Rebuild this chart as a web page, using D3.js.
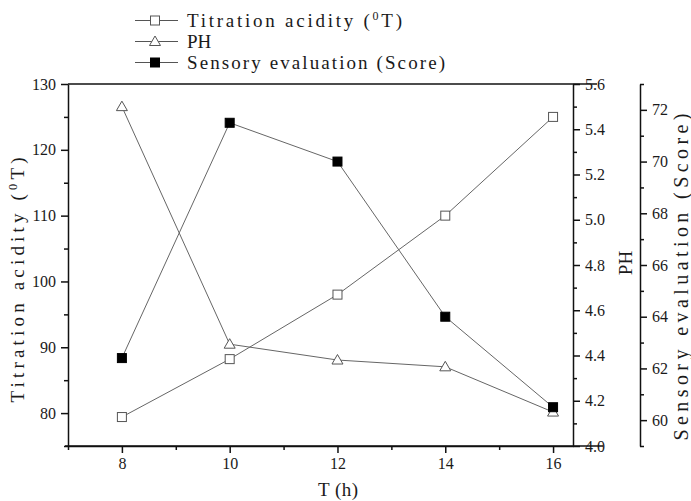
<!DOCTYPE html>
<html>
  <head>
    <meta charset="UTF-8" />
    <style>
      body {
        margin: 0;
        background: #fff;
      }
      svg text {
        font-family: "Liberation Serif", "DejaVu Serif", serif;
        fill: #1a1a1a;
      }
      .tick text {
        font-size: 16px;
      }
    </style>
  </head>
  <body>
    <svg></svg>

    <script src="https://d3js.org/d3.v7.min.js"></script>

    <script>
      // data
      const hours = [8, 10, 12, 14, 16];
      const acidity = [79.4, 88.2, 98.0, 110.0, 125.0];
      const ph = [5.5, 4.45, 4.38, 4.35, 4.15];
      const sensory = [62.4, 71.5, 70.0, 64.0, 60.5];

      const xMajor = [8, 10, 12, 14, 16];
      const xMinor = [7, 9, 11, 13, 15];
      const accMajor = [80, 90, 100, 110, 120, 130];
      const accMinor = [75, 85, 95, 105, 115, 125];
      const phMajor = [4.0, 4.2, 4.4, 4.6, 4.8, 5.0, 5.2, 5.4, 5.6];
      const phMinor = [4.1, 4.3, 4.5, 4.7, 4.9, 5.1, 5.3, 5.5];
      const senMajor = [60, 62, 64, 66, 68, 70, 72];
      const senMinor = [59, 61, 63, 65, 67, 69, 71, 73];

      const width = 691,
        height = 501;
      const plotLeft = 68,
        plotRight = 573,
        plotTop = 84,
        plotBottom = 446,
        axis3 = 640;

      let svg = d3
        .select("svg")
        .attr("width", width)
        .attr("height", height);

      let x = d3.scaleLinear().domain([7, 16.37]).range([plotLeft, plotRight]);
      let yAcc = d3.scaleLinear().domain([75, 130]).range([plotBottom, plotTop]);
      let yPh = d3.scaleLinear().domain([4.0, 5.6]).range([plotBottom, plotTop]);
      let ySen = d3.scaleLinear().domain([59, 73]).range([plotBottom, plotTop]);

      // frame lines (top and bottom run a bit past the right axis)
      svg
        .append("line")
        .attr("x1", plotLeft)
        .attr("x2", 597)
        .attr("y1", plotTop)
        .attr("y2", plotTop)
        .attr("stroke", "#111")
        .attr("stroke-width", 1.5);

      function drawAxis(gen, major, minor, fmt, tx, ty) {
        let g = svg
          .append("g")
          .attr("transform", "translate(" + tx + "," + ty + ")");
        g.call(
          gen
            .tickValues(minor)
            .tickSize(4)
            .tickSizeOuter(0)
            .tickFormat("")
        );
        let g2 = svg
          .append("g")
          .attr("transform", "translate(" + tx + "," + ty + ")");
        g2.call(
          gen
            .tickValues(major)
            .tickSize(7)
            .tickSizeOuter(0)
            .tickPadding(5)
            .tickFormat(fmt)
        );
        [g, g2].forEach((s) => {
          s.selectAll("path, line")
            .attr("stroke", "#111")
            .attr("stroke-width", 1.5);
        });
        g2.select(".domain").remove();
        return g2;
      }

      drawAxis(d3.axisBottom(x), xMajor, xMinor, d3.format("d"), 0, plotBottom);
      drawAxis(d3.axisLeft(yAcc), accMajor, accMinor, d3.format("d"), plotLeft, 0);
      drawAxis(d3.axisRight(yPh), phMajor, phMinor, d3.format(".1f"), plotRight, 0);
      drawAxis(d3.axisRight(ySen), senMajor, senMinor, d3.format("d"), axis3, 0);

      svg
        .append("line")
        .attr("x1", 65)
        .attr("x2", 603)
        .attr("y1", plotBottom)
        .attr("y2", plotBottom)
        .attr("stroke", "#111")
        .attr("stroke-width", 1.5);

      // series
      const series = [
        { values: acidity, y: yAcc, shape: "square", fill: "#fff" },
        { values: ph, y: yPh, shape: "triangle", fill: "#fff" },
        { values: sensory, y: ySen, shape: "square", fill: "#000" },
      ];

      function marker(g, shape, fill, cx, cy) {
        if (shape == "square") {
          g.append("rect")
            .attr("x", cx - 4.5)
            .attr("y", cy - 4.5)
            .attr("width", 9)
            .attr("height", 9)
            .attr("fill", fill)
            .attr("stroke", fill == "#000" ? "#000" : "#555")
            .attr("stroke-width", 1);
        } else {
          g.append("path")
            .attr(
              "d",
              "M" + cx + "," + (cy - 5.5) +
                "L" + (cx + 5.5) + "," + (cy + 4) +
                "L" + (cx - 5.5) + "," + (cy + 4) + "Z"
            )
            .attr("fill", fill)
            .attr("stroke", "#555")
            .attr("stroke-width", 1);
        }
      }

      series.forEach((s) => {
        let line = d3
          .line()
          .x((d, i) => x(hours[i]))
          .y((d) => s.y(d));
        svg
          .append("path")
          .datum(s.values)
          .attr("d", line)
          .attr("fill", "none")
          .attr("stroke", "#666")
          .attr("stroke-width", 1);
      });
      series.forEach((s) => {
        let g = svg.append("g");
        s.values.forEach((v, i) => marker(g, s.shape, s.fill, x(hours[i]), s.y(v)));
      });

      // axis titles
      function title(txt, sup, after, cx, cy, rot, size, len) {
        let t = svg
          .append("text")
          .attr("transform", "translate(" + cx + "," + cy + ") rotate(" + rot + ")")
          .attr("text-anchor", "middle")
          .style("font-size", size + "px");
        if (len) t.attr("textLength", len).attr("lengthAdjust", "spacing");
        t.append("tspan").text(txt);
        if (sup) {
          t.append("tspan")
            .attr("dy", -7)
            .style("font-size", size * 0.65 + "px")
            .text(sup);
          t.append("tspan").attr("dy", 7).text(after);
        }
        return t;
      }

      title("Titration acidity (", "0", "T)", 24, 280, -90, 19, 245);
      title("PH", null, null, 632, 263, -90, 19, null);
      title("Sensory evaluation (Score)", null, null, 688, 277, -90, 20, 327);
      title("T (h)", null, null, 338, 496, 0, 19, 40);

      // legend
      const legendRows = [
        { label: "Titration acidity (", sup: "0", after: "T)", shape: "square", fill: "#fff", len: 215 },
        { label: "PH", sup: null, after: null, shape: "triangle", fill: "#fff", len: null },
        { label: "Sensory evaluation (Score)", sup: null, after: null, shape: "square", fill: "#000", len: 258 },
      ];
      let legend = svg.append("g").attr("class", "legend");
      legendRows.forEach((r, i) => {
        let ly = 20.5 + i * 21;
        legend
          .append("line")
          .attr("x1", 135)
          .attr("x2", 178)
          .attr("y1", ly)
          .attr("y2", ly)
          .attr("stroke", "#555")
          .attr("stroke-width", 1);
        marker(legend, r.shape, r.fill, 155, ly);
        let t = legend
          .append("text")
          .attr("x", 187)
          .attr("y", ly + 6.5)
          .style("font-size", "19px");
        if (r.len) t.attr("textLength", r.len).attr("lengthAdjust", "spacing");
        t.append("tspan").text(r.label);
        if (r.sup) {
          t.append("tspan").attr("dy", -7).style("font-size", "12px").text(r.sup);
          t.append("tspan").attr("dy", 7).text(r.after);
        }
      });
    </script>
  </body>
</html>
